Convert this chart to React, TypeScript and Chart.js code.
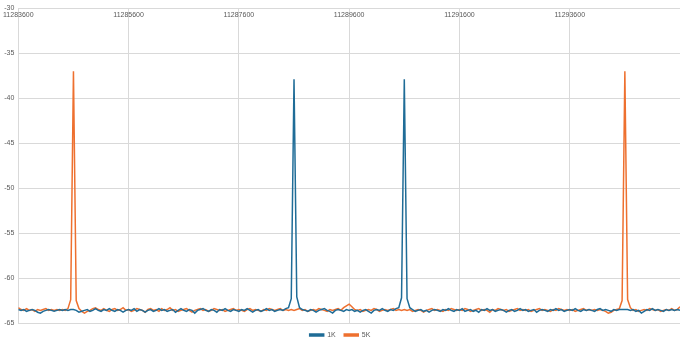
import React, { useEffect, useRef } from "react";
import { Chart, registerables } from "chart.js";

Chart.register(...registerables);

const START_FREQ = 11283600;
const STEP_FREQ = 50;
const END_FREQ = 11295600;
const TICK_STEP = 2000;
const Y_MIN = -65;
const Y_MAX = -30;
const Y_STEP = 5;

const seriesNames = ["1K", "5K"];

const values1K = [
  -63.5, -63.6, -63.5, -63.7, -63.6, -63.5, -63.6, -63.8, -63.9, -63.7, -63.6, -63.5, -63.6, -63.7, -63.6, -63.5, -63.6, -63.5, -63.6, -63.5,
  -63.5, -63.6, -63.8, -63.7, -63.6, -63.5, -63.7, -63.6, -63.4, -63.6, -63.7, -63.5, -63.6, -63.4, -63.6, -63.7, -63.5, -63.6, -63.8, -63.6,
  -63.5, -63.6, -63.4, -63.7, -63.5, -63.6, -63.8, -63.6, -63.5, -63.7, -63.6, -63.4, -63.6, -63.5, -63.7, -63.6, -63.5, -63.8, -63.6, -63.4,
  -63.6, -63.7, -63.5, -63.6, -63.9, -63.6, -63.5, -63.4, -63.6, -63.7, -63.5, -63.6, -63.8, -63.5, -63.6, -63.4, -63.6, -63.7, -63.5, -63.6,
  -63.7, -63.5, -63.6, -63.4, -63.6, -63.8, -63.6, -63.5, -63.7, -63.6, -63.4, -63.6, -63.5, -63.7, -63.6, -63.5, -63.6, -63.4, -63.3, -62.3,
  -37.9, -62.1, -63.3, -63.5, -63.6, -63.7, -63.5, -63.6, -63.8, -63.6, -63.5, -63.4, -63.6, -63.7, -63.9, -63.6, -63.5, -63.6, -63.7, -63.5,
  -63.6, -63.5, -63.7, -63.6, -63.8, -63.6, -63.5, -63.7, -63.9, -63.6, -63.5, -63.6, -63.4, -63.6, -63.7, -63.5, -63.6, -63.4, -63.3, -62.2,
  -37.9, -62.3, -63.3, -63.5, -63.7, -63.6, -63.5, -63.7, -63.6, -63.8, -63.6, -63.5, -63.6, -63.7, -63.5, -63.6, -63.4, -63.6, -63.7, -63.5,
  -63.6, -63.4, -63.7, -63.6, -63.5, -63.7, -63.6, -63.8, -63.5, -63.6, -63.4, -63.6, -63.5, -63.7, -63.6, -63.5, -63.6, -63.8, -63.6, -63.5,
  -63.7, -63.6, -63.4, -63.6, -63.5, -63.7, -63.6, -63.5, -63.8, -63.6, -63.5, -63.6, -63.7, -63.5, -63.6, -63.4, -63.6, -63.5, -63.7, -63.6,
  -63.5, -63.6, -63.4, -63.6, -63.7, -63.5, -63.6, -63.5, -63.6, -63.7, -63.5, -63.4, -63.6, -63.5, -63.6, -63.7, -63.5, -63.6, -63.5, -63.5,
  -63.5, -63.5, -63.6, -63.5, -63.7, -63.6, -63.9, -63.7, -63.5, -63.6, -63.4, -63.6, -63.5, -63.6, -63.7, -63.5, -63.6, -63.5, -63.6, -63.5,
  -63.6,
];

const values5K = [
  -63.3, -63.5, -63.6, -63.4, -63.6, -63.5, -63.7, -63.5, -63.6, -63.5, -63.4, -63.6, -63.5, -63.6, -63.5, -63.6, -63.5, -63.6, -63.4, -62.4,
  -37.0, -62.5, -63.4, -63.7, -63.9, -63.7, -63.6, -63.4, -63.3, -63.5, -63.6, -63.4, -63.6, -63.7, -63.5, -63.4, -63.6, -63.5, -63.3, -63.6,
  -63.5, -63.7, -63.6, -63.4, -63.5, -63.6, -63.8, -63.5, -63.4, -63.6, -63.5, -63.7, -63.4, -63.6, -63.5, -63.3, -63.6, -63.5, -63.7, -63.6,
  -63.5, -63.4, -63.6, -63.8, -63.6, -63.5, -63.4, -63.6, -63.5, -63.7, -63.6, -63.4, -63.5, -63.6, -63.5, -63.7, -63.6, -63.5, -63.4, -63.6,
  -63.5, -63.6, -63.7, -63.5, -63.4, -63.6, -63.5, -63.6, -63.7, -63.5, -63.6, -63.4, -63.5, -63.6, -63.5, -63.4, -63.6, -63.5, -63.6, -63.5,
  -63.6, -63.5, -63.4, -63.6, -63.5, -63.7, -63.6, -63.5, -63.6, -63.4, -63.5, -63.6, -63.7, -63.5, -63.6, -63.5, -63.4, -63.6, -63.3, -63.1,
  -62.9, -63.2, -63.5, -63.6, -63.5, -63.7, -63.6, -63.5, -63.6, -63.4, -63.5, -63.7, -63.6, -63.5, -63.6, -63.5, -63.4, -63.6, -63.5, -63.6,
  -63.5, -63.6, -63.5, -63.7, -63.6, -63.5, -63.6, -63.8, -63.6, -63.5, -63.4, -63.6, -63.5, -63.6, -63.7, -63.5, -63.6, -63.4, -63.5, -63.6,
  -63.5, -63.6, -63.4, -63.5, -63.7, -63.6, -63.5, -63.4, -63.6, -63.5, -63.6, -63.8, -63.5, -63.6, -63.4, -63.5, -63.6, -63.5, -63.7, -63.6,
  -63.5, -63.4, -63.6, -63.5, -63.6, -63.5, -63.7, -63.6, -63.5, -63.4, -63.6, -63.5, -63.6, -63.7, -63.5, -63.6, -63.4, -63.5, -63.6, -63.5,
  -63.6, -63.5, -63.7, -63.6, -63.5, -63.4, -63.6, -63.5, -63.6, -63.5, -63.6, -63.5, -63.6, -63.7, -63.9, -63.8, -63.6, -63.5, -63.4, -62.5,
  -37.0, -62.4, -63.3, -63.6, -63.5, -63.7, -63.6, -63.5, -63.6, -63.4, -63.5, -63.6, -63.5, -63.7, -63.6, -63.5, -63.6, -63.4, -63.6, -63.5,
  -63.2,
];

const frequencies = values1K.map((_, i) => START_FREQ + i * STEP_FREQ);

const COLOR_1K = "#1f6c97";
const COLOR_5K = "#ee702f";
const GRID = "#d9d9d9";
const TEXT = "#595959";
const FONT = { family: "'Liberation Sans Narrow', 'Liberation Sans', sans-serif", size: 7 };

export default function App() {
  const ref = useRef<HTMLCanvasElement | null>(null);

  useEffect(() => {
    document.body.style.margin = "0";
    const canvas = ref.current;
    if (!canvas) return;
    const chart = new Chart(canvas, {
      type: "line",
      data: {
        datasets: [
          {
            label: seriesNames[0],
            data: frequencies.map((f, i) => ({ x: f, y: values1K[i] })),
            borderColor: COLOR_1K,
            backgroundColor: COLOR_1K,
            borderWidth: 1.5,
            pointRadius: 0,
            tension: 0,
          },
          {
            label: seriesNames[1],
            data: frequencies.map((f, i) => ({ x: f, y: values5K[i] })),
            borderColor: COLOR_5K,
            backgroundColor: COLOR_5K,
            borderWidth: 1.5,
            pointRadius: 0,
            tension: 0,
          },
        ],
      },
      options: {
        animation: false,
        responsive: false,
        maintainAspectRatio: false,
        layout: { padding: { left: 0, right: 10, top: 0, bottom: -6.5 } },
        scales: {
          x: {
            type: "linear",
            position: "top",
            min: START_FREQ,
            max: END_FREQ,
            afterBuildTicks: (scale: any) => {
              scale.ticks = scale.ticks.filter((t: any) => t.value < END_FREQ);
            },
            afterFit: (scale: any) => {
              scale.height = 7;
            },
            ticks: {
              stepSize: TICK_STEP,
              mirror: true,
              padding: 3,
              maxRotation: 0,
              autoSkip: false,
              font: FONT,
              color: TEXT,
              callback: (v: any) => String(v),
            },
            grid: { color: GRID, drawTicks: false, lineWidth: 1 },
            border: { display: false },
          },
          y: {
            min: Y_MIN,
            max: Y_MAX,
            afterFit: (scale: any) => {
              scale.width = 16;
            },
            ticks: { stepSize: Y_STEP, padding: 4, font: FONT, color: TEXT },
            grid: { color: GRID, drawTicks: false, lineWidth: 1 },
            border: { display: false },
          },
        },
        plugins: {
          legend: {
            position: "bottom",
            labels: { boxWidth: 14, boxHeight: 2, padding: 8.5, font: FONT, color: TEXT },
          },
          tooltip: { enabled: false },
        },
      },
    });
    return () => chart.destroy();
  }, []);

  return (
    <div style={{ position: "fixed", left: 0, top: 0, width: 690, height: 342, background: "#fff" }}>
      <canvas ref={ref} width={690} height={342} style={{ width: 690, height: 342 }} />
    </div>
  );
}
